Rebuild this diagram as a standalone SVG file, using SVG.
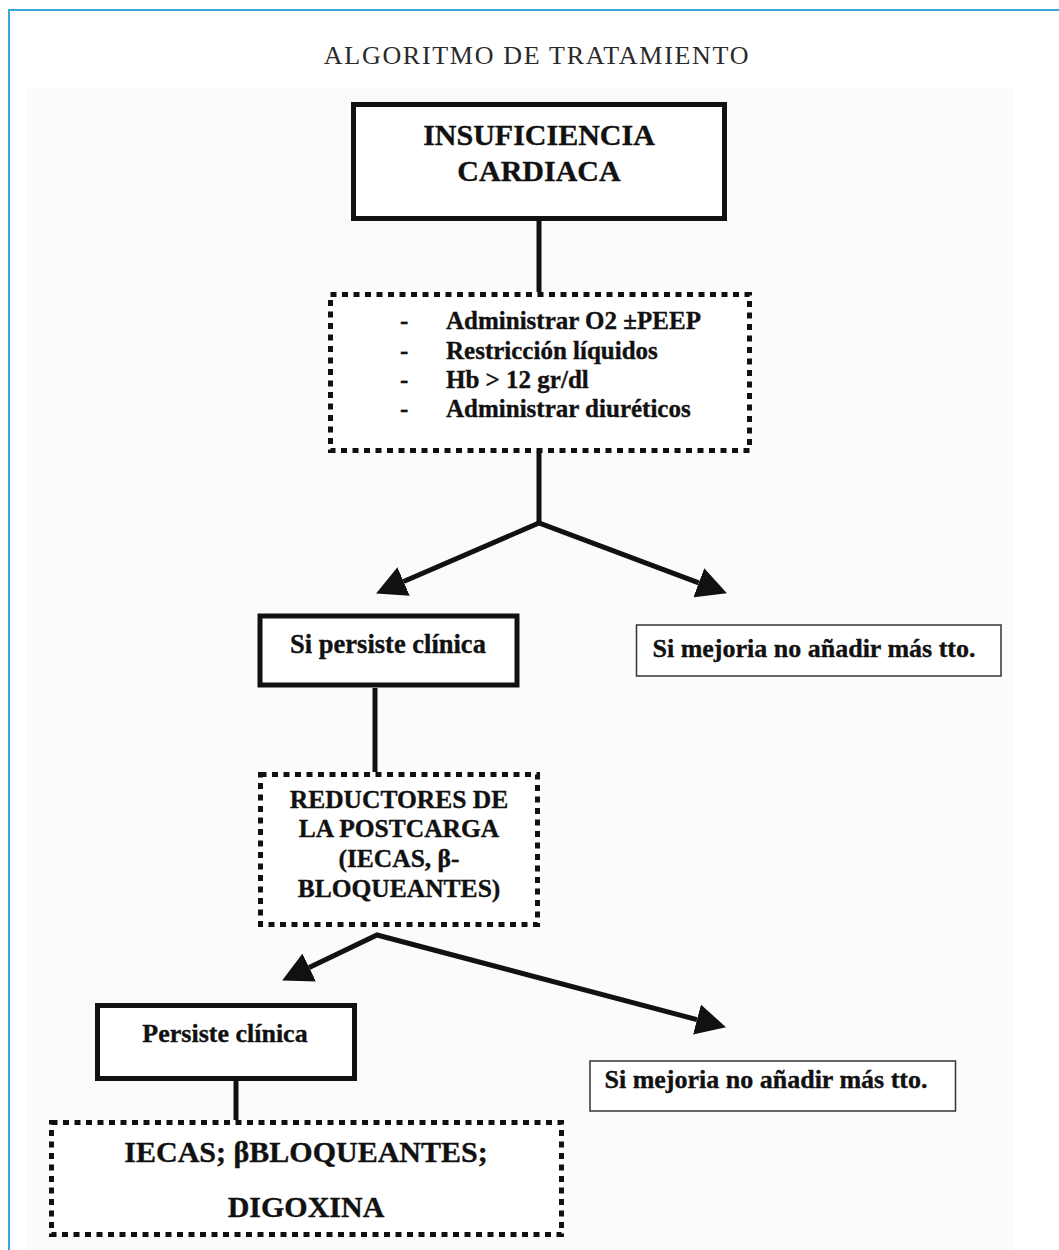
<svg xmlns="http://www.w3.org/2000/svg" width="1059" height="1250" viewBox="0 0 1059 1250">
  <defs>
    <style>
      .t { font-family: "Liberation Serif", "Times New Roman", serif; font-weight: bold; fill: #111; stroke: #111; stroke-width: 0.35; }
      .c { text-anchor: middle; }
      .solid { fill: #fff; stroke: #111; stroke-width: 5; }
      .thin { fill: #fff; stroke: #333; stroke-width: 1.5; }
      .dot { fill: #fff; stroke: #111; stroke-width: 5; stroke-dasharray: 6 5.5; }
      .conn { fill: none; stroke: #111; stroke-width: 5; stroke-linejoin: miter; }
    </style>
    <marker id="ah" markerUnits="userSpaceOnUse" markerWidth="31" markerHeight="31" refX="0" refY="15.5" orient="auto-start-reverse">
      <path d="M0,0 L30,15.5 L0,31 Z" fill="#111"/>
    </marker>
  </defs>

  <rect x="0" y="0" width="1059" height="1250" fill="#fff"/>
  <rect x="27" y="88" width="986" height="1170" fill="#fbfbfb"/>
  <rect x="9" y="10" width="1100" height="1300" fill="none" stroke="#3aa8dc" stroke-width="2"/>

  <text x="537" y="64" text-anchor="middle" font-family="Liberation Serif, Times New Roman, serif" font-size="26" letter-spacing="1.7" fill="#2a2a2a">ALGORITMO DE TRATAMIENTO</text>

  <g id="connectors">
    <path class="conn" d="M539,221 L539,292"/>
    <path class="conn" d="M539,452 L539,523"/>
    <path class="conn" d="M403.6,581.5 L539,523 L698.8,582.8" marker-start="url(#ah)" marker-end="url(#ah)"/>
    <path class="conn" d="M375,688 L375,772"/>
    <path class="conn" d="M309.2,967.5 L377,935 L697,1019.6" marker-start="url(#ah)" marker-end="url(#ah)"/>
    <path class="conn" d="M236,1081 L236,1120"/>
  </g>

  <g id="insuficiencia">
    <rect class="solid" x="353.5" y="104.5" width="371" height="114"/>
    <text class="t c" x="539" y="145" font-size="30">INSUFICIENCIA</text>
    <text class="t c" x="539" y="181" font-size="30">CARDIACA</text>
  </g>

  <g id="medidas">
    <rect class="dot" x="330.5" y="294.5" width="419" height="156"/>
    <g class="t" font-size="25">
      <text x="400" y="329">-</text>
      <text x="446" y="329">Administrar O2 ±PEEP</text>
      <text x="400" y="358.5">-</text>
      <text x="446" y="358.5">Restricción líquidos</text>
      <text x="400" y="388">-</text>
      <text x="446" y="388">Hb &gt; 12 gr/dl</text>
      <text x="400" y="417">-</text>
      <text x="446" y="417">Administrar diuréticos</text>
    </g>
  </g>

  <g id="persiste1">
    <rect class="solid" x="260" y="616" width="257" height="69" stroke-width="6"/>
    <text class="t c" x="388" y="653" font-size="26.5">Si persiste clínica</text>
  </g>

  <g id="mejoria1">
    <rect class="thin" x="636.5" y="625" width="364.5" height="51"/>
    <text class="t c" x="814" y="657" font-size="26">Si mejoria no añadir más tto.</text>
  </g>

  <g id="reductores">
    <rect class="dot" x="260.5" y="774.5" width="277" height="150"/>
    <g class="t c" font-size="25.5">
      <text x="399" y="808">REDUCTORES DE</text>
      <text x="399" y="837">LA POSTCARGA</text>
      <text x="399" y="867">(IECAS, β-</text>
      <text x="399" y="897">BLOQUEANTES)</text>
    </g>
  </g>

  <g id="persiste2">
    <rect class="solid" x="97.5" y="1005.5" width="257" height="73"/>
    <text class="t c" x="225" y="1042" font-size="26">Persiste clínica</text>
  </g>

  <g id="mejoria2">
    <rect class="thin" x="590" y="1061" width="365.5" height="50"/>
    <text class="t c" x="766" y="1088" font-size="26">Si mejoria no añadir más tto.</text>
  </g>

  <g id="tratamiento">
    <rect class="dot" x="51.5" y="1122.5" width="510" height="112"/>
    <text class="t c" x="306" y="1162" font-size="30">IECAS; βBLOQUEANTES;</text>
    <text class="t c" x="306" y="1217" font-size="30">DIGOXINA</text>
  </g>
</svg>
